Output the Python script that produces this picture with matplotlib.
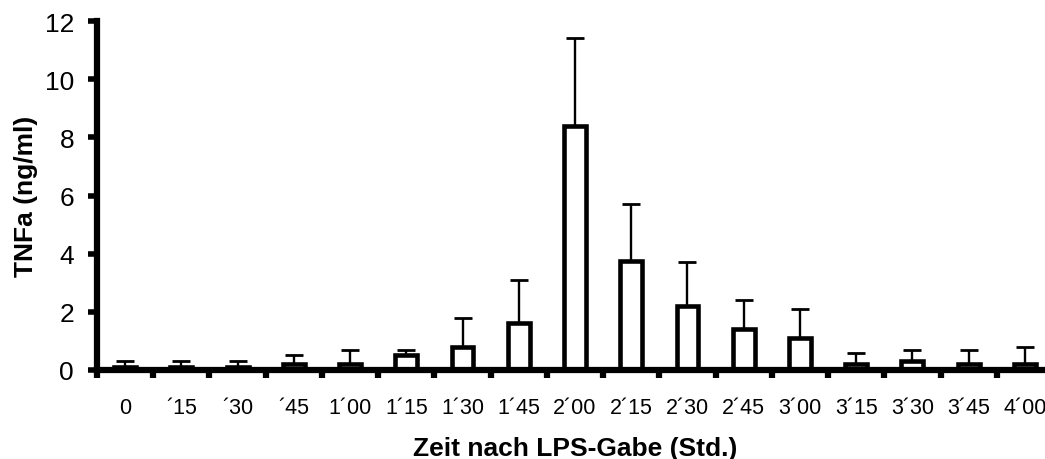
import matplotlib
matplotlib.use("Agg")
import matplotlib.pyplot as plt
import numpy as np

plt.rcParams['font.family'] = ['Liberation Sans', 'DejaVu Sans']

categories = ['0', '´15', '´30', '´45', '1´00', '1´15', '1´30', '1´45', '2´00',
              '2´15', '2´30', '2´45', '3´00', '3´15', '3´30', '3´45', '4´00']
values = [0.1, 0.1, 0.1, 0.2, 0.2, 0.5, 0.8, 1.6, 8.4, 3.75, 2.2, 1.4, 1.1, 0.2, 0.3, 0.2, 0.2]
errors = [0.2, 0.2, 0.2, 0.3, 0.5, 0.2, 1.0, 1.5, 3.0, 1.95, 1.5, 1.0, 1.0, 0.4, 0.4, 0.5, 0.6]
yticks = [0, 2, 4, 6, 8, 10, 12]

W, H = 1045, 460
fig = plt.figure(figsize=(W / 100, H / 100), dpi=100)
left, right, bottom, top = 97, 1053, 371, 22
ax = fig.add_axes([left / W, (H - bottom) / H, (right - left) / W, (bottom - top) / H])

x = np.arange(len(categories))
ax.bar(x, values, width=0.39, facecolor='white', edgecolor='black', linewidth=3.3, zorder=2)
ax.errorbar(x, values, yerr=[np.zeros(len(errors)), errors], fmt='none', ecolor='black',
            elinewidth=1.7, capsize=6.5, capthick=2.0, zorder=1)

ax.set_xlim(-0.5, len(categories) - 0.5)
ax.set_ylim(0, 12)
ax.set_yticks(yticks)
ax.set_yticklabels([str(v) for v in yticks], fontsize=19)

ax.set_xticks(np.arange(len(categories) + 1) - 0.5)
ax.set_xticklabels([])
ax.set_xticks(x, minor=True)
ax.set_xticklabels(categories, minor=True, fontsize=15.5)
ax.tick_params(axis='x', which='major', direction='out', length=5.5, width=4.5)
ax.tick_params(axis='x', which='minor', length=0, pad=19.5)
ax.tick_params(axis='y', direction='out', length=6.5, width=4, pad=10)

for s in ['top', 'right']:
    ax.spines[s].set_visible(False)
ax.spines['left'].set_linewidth(4.5)
ax.spines['bottom'].set_linewidth(4.5)
ax.spines['left'].set_capstyle('projecting')
ax.spines['bottom'].set_capstyle('projecting')

ax.set_ylabel('TNFa (ng/ml)', fontsize=19, fontweight='bold')
ax.yaxis.set_label_coords((38 - left) / (right - left), 0.5)
ax.set_xlabel('Zeit nach LPS-Gabe (Std.)', fontsize=19, fontweight='bold')
ax.xaxis.set_label_coords(0.5, -(437 - bottom) / (bottom - top))

fig.savefig('out.png', dpi=100)
